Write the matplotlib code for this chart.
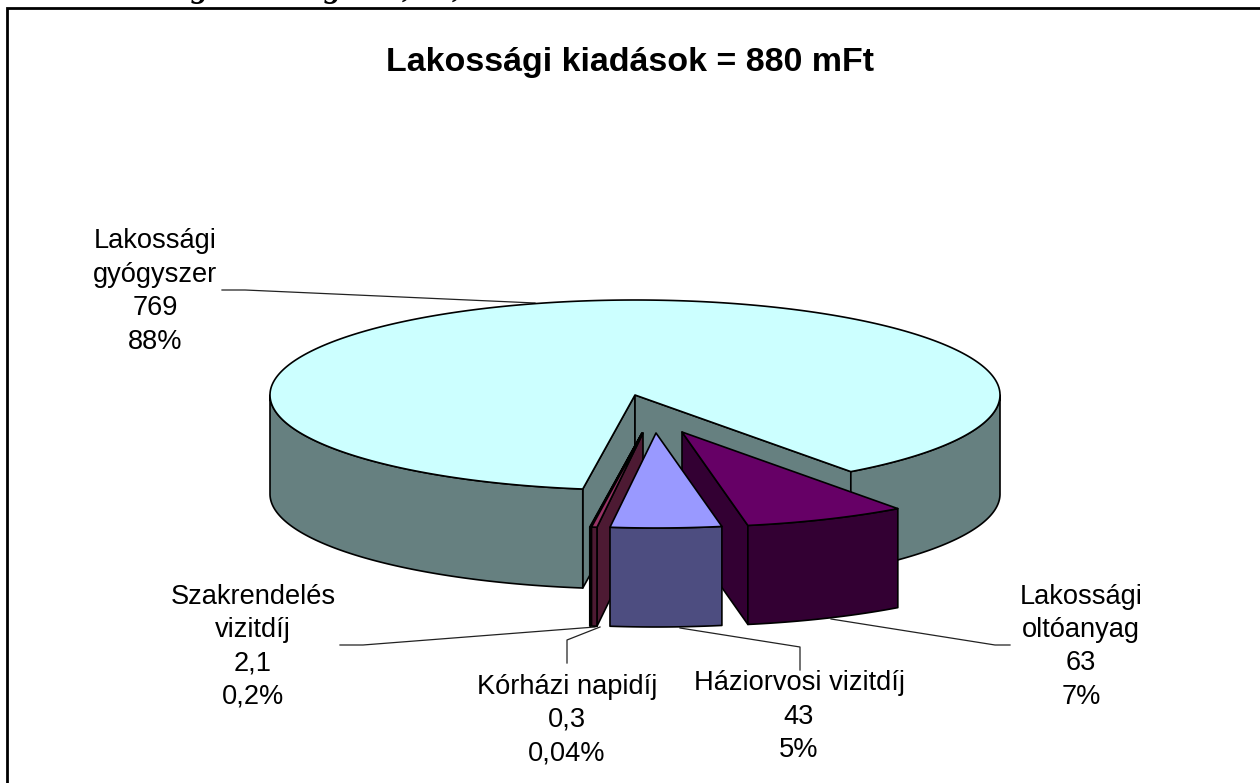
import numpy as np
import matplotlib
matplotlib.use("Agg")
import matplotlib.pyplot as plt
from matplotlib.patches import Polygon

plt.rcParams['font.family'] = ['Liberation Sans', 'DejaVu Sans']

# Chart data
labels = ['Háziorvosi vizitdíj', 'Szakrendelés\nvizitdíj', 'Kórházi napidíj',
          'Lakossági\ngyógyszer', 'Lakossági\noltóanyag']
values = [43, 2.1, 0.3, 769, 63]
value_text = ['43', '2,1', '0,3', '769', '63']
pct_text = ['5%', '0,2%', '0,04%', '88%', '7%']
title = 'Lakossági kiadások = 880 mFt'

# Slice styles
top_colors = ['#9999FF', '#993366', '#FFFFCC', '#CCFFFF', '#660066']
side_colors = ['#4D4D80', '#4D1A33', '#808066', '#668080', '#330033']

# Pie geometry in pixels
cx, cy = 635, 395
rx, ry = 365, 95
depth = 99
first_angle = 79.6
explode_x = [21, 8, 7, 0, 47]
explode_y = [38, 38, 38, 0, 37]

# Label layout: centre x, y of the first line
label_x = [799, 253, 567, 155, 1081]
label_y = [683.5, 596.5, 686.5, 241.5, 596.5]
line_step = 33.4
leaders = [
    ([800, 800, 680], [670, 647, 628]),
    ([340, 363, 595], [645, 645, 627]),
    ([567, 567, 600], [663, 640, 627]),
    ([222, 245, 535], [290, 290, 303]),
    ([1010, 995, 831], [645, 645, 619]),
]

fig = plt.figure(figsize=(12.6, 7.83), dpi=100)
ax = fig.add_axes([0, 0, 1, 1])
ax.set_xlim(0, 1260)
ax.set_ylim(783, 0)
ax.axis('off')

edge = dict(edgecolor='black', linewidth=1.2, joinstyle='round')


def arc(x0, y0, a, b):
    t = np.radians(np.linspace(a, b, max(int(abs(b - a) * 2), 2)))
    return x0 + rx * np.cos(t), y0 + ry * np.sin(t)


def wall(x1, y1, x2, y2, color, z):
    ax.add_patch(Polygon([(x1, y1), (x2, y2), (x2, y2 + depth), (x1, y1 + depth)],
                         facecolor=color, zorder=z, **edge))


def draw_slice(a, b, x0, y0, top, side, z):
    # radial walls show only when they face the viewer
    if np.sin(np.radians(a - 90)) > 0:
        px, py = arc(x0, y0, a, a)
        wall(x0, y0, px[0], py[0], side, z)
    if np.sin(np.radians(b + 90)) > 0:
        px, py = arc(x0, y0, b, b)
        wall(x0, y0, px[0], py[0], side, z)
    # outer wall, front half of the ellipse only
    for lo, hi in [(0, 180), (360, 540)]:
        s, e = max(a, lo), min(b, hi)
        if s < e:
            px, py = arc(x0, y0, s, e)
            pts = list(zip(px, py)) + list(zip(px[::-1], py[::-1] + depth))
            ax.add_patch(Polygon(pts, facecolor=side, zorder=z + 0.1, **edge))
    # top face
    px, py = arc(x0, y0, a, b)
    pts = [(x0, y0)] + list(zip(px, py))
    ax.add_patch(Polygon(pts, facecolor=top, zorder=z + 0.2, **edge))


total = sum(values)
starts = first_angle + np.concatenate([[0], np.cumsum(values)[:-1]]) / total * 360
ends = first_angle + np.cumsum(values) / total * 360

# back to front: main slice, then the exploded ones
order = [3, 2, 1, 4, 0]
for n, i in enumerate(order):
    draw_slice(starts[i], ends[i], cx + explode_x[i], cy + explode_y[i],
               top_colors[i], side_colors[i], 2 + n)

for i in range(len(labels)):
    lines = labels[i].split('\n') + [value_text[i], pct_text[i]]
    for j, line in enumerate(lines):
        ax.text(label_x[i], label_y[i] + j * line_step, line, ha='center', va='center',
                fontsize=19.6, color='black', zorder=10)
    ax.plot(leaders[i][0], leaders[i][1], color='#222222', lw=0.9, zorder=1)

ax.text(630, 63, title, ha='center', va='center', fontsize=24.5, fontweight='bold', zorder=10)

# frame: only left and top are inside the crop
ax.plot([7, 7, 1260], [783, 8, 8], color='black', lw=2, solid_joinstyle='miter', zorder=1)

# clipped heading above the frame, only descenders are left
for x, s in zip([200, 333, 407, 457], ['g', 'g', ',', ',']):
    ax.text(x, -3, s, ha='center', va='baseline', fontsize=24, fontweight='bold', style='italic',
            family='Liberation Serif', clip_on=False)

fig.savefig('out.png', dpi=100)
